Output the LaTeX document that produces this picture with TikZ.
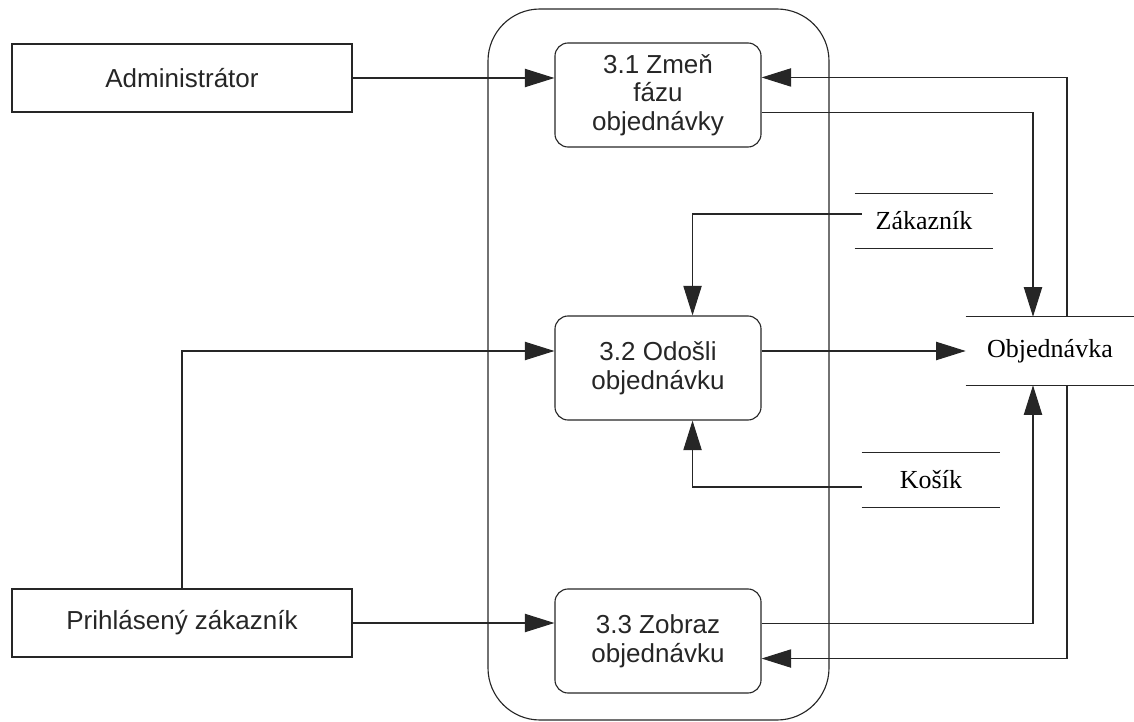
\documentclass[tikz,border=0pt]{standalone}
\usepackage{fontspec}
\setmainfont{Liberation Sans}
\newfontfamily\storefont{Liberation Serif}
\usetikzlibrary{arrows.meta,calc}
\tikzset{
  line/.style={line width=0.8pt, black!85},
  entity/.style={line, draw, minimum width=8.5cm, minimum height=1.7cm, inner sep=0pt,
    font=\fontsize{18.5}{20.3}\selectfont},
  process/.style={line, draw, rounded corners=0.33cm, minimum width=5.15cm, minimum height=2.6cm,
    inner sep=0pt, align=center, font=\fontsize{18.5}{20.3}\selectfont},
  store/.style={inner sep=0pt, font=\storefont\fontsize{18.5}{20.3}\selectfont},
  flow/.style={line, -{Triangle[length=21pt,width=13pt]}}
}
\begin{document}
\begin{tikzpicture}[x=0.025cm, y=-0.025cm]
\useasboundingbox (0,0) rectangle (1134,722);
% subsystem 3
\draw[line, rounded corners=1.3cm] (488,9) rectangle (829,720);

\node[entity] (admin) at (182,78) {Administrátor};
\node[entity] (prihlaseny) at (182,623) {Prihlásený zákazník};

\node[process] (p31) at (658,95) {3.1 Zmeň\\fázu\\objednávky};
\node[process] (p32) at (658,368) {3.2 Odošli\\objednávku};
\node[process] (p33) at (658,641) {3.3 Zobraz\\objednávku};

\node[store, minimum width=3.45cm, minimum height=1.35cm] (zakaznik) at (924,221) {Zákazník};
\node[store, minimum width=3.45cm, minimum height=1.375cm] (kosik) at (931,480) {Košík};
\node[store, minimum width=4.2cm, minimum height=1.7cm] (objednavka) at (1050,351) {Objednávka};
\foreach \s in {zakaznik,kosik,objednavka}
  \draw[line] (\s.north west) -- (\s.north east) (\s.south west) -- (\s.south east);

\coordinate (downx) at (1033,0);
\coordinate (upx) at (1067,0);

% flows
\draw[flow] (admin) -- (p31.west |- admin);
\draw[flow] (prihlaseny) -- (p33.west |- prihlaseny);
\draw[flow] (prihlaseny.north) |- (p32.west |- objednavka);
\draw[flow] (p32.east |- objednavka) -- (objednavka.west);
\draw[flow] ($(p31.north east)!2/3!(p31.south east)$) -| (objednavka.north -| downx);
\draw[flow] ($(p33.north east)!1/3!(p33.south east)$) -| (objednavka.south -| downx);
\draw[flow] (objednavka.north -| upx) |- ($(p31.north east)!1/3!(p31.south east)$);
\draw[flow] (objednavka.south -| upx) |- ($(p33.north east)!2/3!(p33.south east)$);
\draw[flow] ([shift={(0.175cm,0.175cm)}]zakaznik.west) -| ($(p32.north west)!2/3!(p32.north east)$);
\draw[flow] ([yshift=-0.175cm]kosik.west) -| ($(p32.south west)!2/3!(p32.south east)$);
\end{tikzpicture}
\end{document}
